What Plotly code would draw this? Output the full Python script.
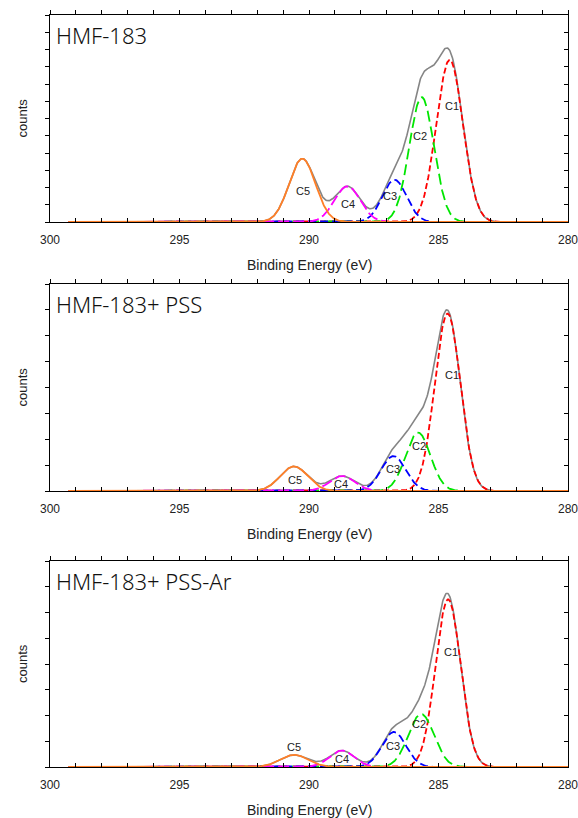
import numpy as np
import plotly.graph_objects as go

# ---------------- data ----------------
panel_titles = ["HMF-183", "HMF-183+ PSS", "HMF-183+ PSS-Ar"]
component_names = ["C1", "C2", "C3", "C4", "C5"]

# peak centres (eV), heights (axis units), FWHM (eV) per panel
hmf_center = [284.57, 285.65, 286.70, 288.52, 290.26]
hmf_height = [9.40, 7.24, 2.45, 2.07, 3.67]
hmf_fwhm = [1.21, 1.12, 1.10, 1.18, 1.20]

pss_center = [284.65, 285.79, 286.74, 288.72, 290.58]
pss_height = [6.86, 2.26, 1.35, 0.58, 0.95]
pss_fwhm = [1.16, 1.13, 1.12, 1.15, 1.25]

pssar_center = [284.63, 285.67, 286.72, 288.73, 290.57]
pssar_height = [6.51, 2.06, 1.36, 0.64, 0.47]
pssar_fwhm = [1.14, 1.16, 1.10, 1.13, 1.28]

# y-axis extents (tick units) per panel
y_max = [12, 8, 8]

# ---------------- layout helpers ----------------
W, H = 578, 818
x_left, x_right = 50, 568
panel_px = [(15, 222), (284, 491), (561, 767)]  # top, bottom in px

label_pos = [
    [(284.46, 6.74), (285.70, 4.96), (286.89, 1.49), (288.49, 1.06), (290.24, 1.78)],
    [(284.47, 4.50), (285.74, 1.73), (286.74, 0.84), (288.77, 0.28), (290.54, 0.41)],
    [(284.53, 4.45), (285.76, 1.68), (286.76, 0.83), (288.73, 0.31), (290.57, 0.76)],
]

colors = ["#ff0000", "#00e600", "#0000ff", "#ff00ff", "#ff7f27"]
dashes = ["6px,3px", "11px,5px", "8px,4px", "11px,4px", "solid"]

params = [
    (hmf_center, hmf_height, hmf_fwhm),
    (pss_center, pss_height, pss_fwhm),
    (pssar_center, pssar_height, pssar_fwhm),
]

E = np.arange(299.3, 279.99, -0.02)


def gauss(x, c, h, w):
    return h * np.exp(-4 * np.log(2) * ((x - c) / w) ** 2)


fig = go.Figure()
annotations = []
layout_axes = {}
common = dict(showgrid=False, zeroline=False, showline=True, linecolor="black",
              linewidth=1, tickcolor="black", ticklen=4, automargin=False)

for i in range(3):
    centers, heights, widths = params[i]
    n = i + 1
    xa = "x" if n == 1 else f"x{n}"
    ya = "y" if n == 1 else f"y{n}"
    comps = [gauss(E, c, h, w) for c, h, w in zip(centers, heights, widths)]
    env = np.sum(comps, axis=0)
    fig.add_trace(go.Scatter(x=E, y=env, mode="lines",
                             line=dict(color="#858585", width=1.6),
                             xaxis=xa, yaxis=ya, showlegend=False, hoverinfo="skip"))
    for k in range(5):
        fig.add_trace(go.Scatter(x=E, y=comps[k], mode="lines",
                                 line=dict(color=colors[k], width=1.8, dash=dashes[k]),
                                 xaxis=xa, yaxis=ya, showlegend=False, hoverinfo="skip"))

    top, bot = panel_px[i]
    ydom = [1 - bot / H, 1 - top / H]
    xdom = [x_left / W, x_right / W]
    xkey = "xaxis" if n == 1 else f"xaxis{n}"
    ykey = "yaxis" if n == 1 else f"yaxis{n}"
    layout_axes[xkey] = dict(
        domain=xdom, anchor=ya, range=[300, 280], ticks="inside",
        tickmode="linear", dtick=5, tick0=280, ticklabeloverflow="allow",
        ticklabelstandoff=7,
        tickfont=dict(family="Liberation Sans, Arial", size=12, color="#222"),
        minor=dict(dtick=1, tick0=280, ticks="inside", ticklen=4, tickcolor="black"),
        **common,
    )
    layout_axes[ykey] = dict(
        domain=ydom, anchor=xa, range=[0, y_max[i]], ticks="outside",
        tickmode="linear", dtick=1, tick0=0, showticklabels=False, **common,
    )
    # overlay axes: top (outside ticks) and right (inside ticks)
    xo = f"xaxis{10 + n}"
    yo = f"yaxis{10 + n}"
    layout_axes[xo] = dict(
        overlaying=xa, anchor=ya, side="top", range=[300, 280], ticks="outside",
        tickmode="linear", dtick=1, tick0=280, showticklabels=False, **common,
    )
    layout_axes[yo] = dict(
        overlaying=ya, anchor=xa, side="right", range=[0, y_max[i]], ticks="inside",
        tickmode="linear", dtick=1, tick0=0, showticklabels=False, **common,
    )
    fig.add_trace(go.Scatter(x=[290], y=[0], mode="markers", marker=dict(opacity=0),
                             xaxis=f"x{10 + n}", yaxis=f"y{10 + n}", showlegend=False,
                             hoverinfo="skip"))

    # component labels
    for k in range(5):
        lx, ly = label_pos[i][k]
        annotations.append(dict(x=lx, y=ly, xref=xa, yref=ya, text=component_names[k],
                                showarrow=False, xanchor="center", yanchor="middle",
                                font=dict(family="Liberation Sans, Arial", size=11, color="#222")))
    # panel title
    annotations.append(dict(x=54 / W, y=1 - (top + 20) / H, xref="paper", yref="paper",
                            xanchor="left", yanchor="middle", text=panel_titles[i],
                            showarrow=False,
                            font=dict(family="Noto Sans", size=22, color="#111", weight=300)))
    # axis titles
    annotations.append(dict(x=22 / W, y=1 - ((top + bot) / 2) / H, xref="paper", yref="paper",
                            xanchor="center", yanchor="middle",
                            text="counts", textangle=-90, showarrow=False,
                            font=dict(family="Liberation Sans, Arial", size=13, color="#222")))
    annotations.append(dict(x=309 / W, y=1 - (bot + 43) / H, xref="paper", yref="paper",
                            xanchor="center", yanchor="middle",
                            text="Binding Energy (eV)", showarrow=False,
                            font=dict(family="Liberation Sans, Arial", size=14, color="#222")))

fig.update_layout(
    width=W, height=H, margin=dict(l=0, r=0, t=0, b=0, autoexpand=False),
    paper_bgcolor="white", plot_bgcolor="white",
    annotations=annotations, **layout_axes,
)

fig.write_html("out.html")
